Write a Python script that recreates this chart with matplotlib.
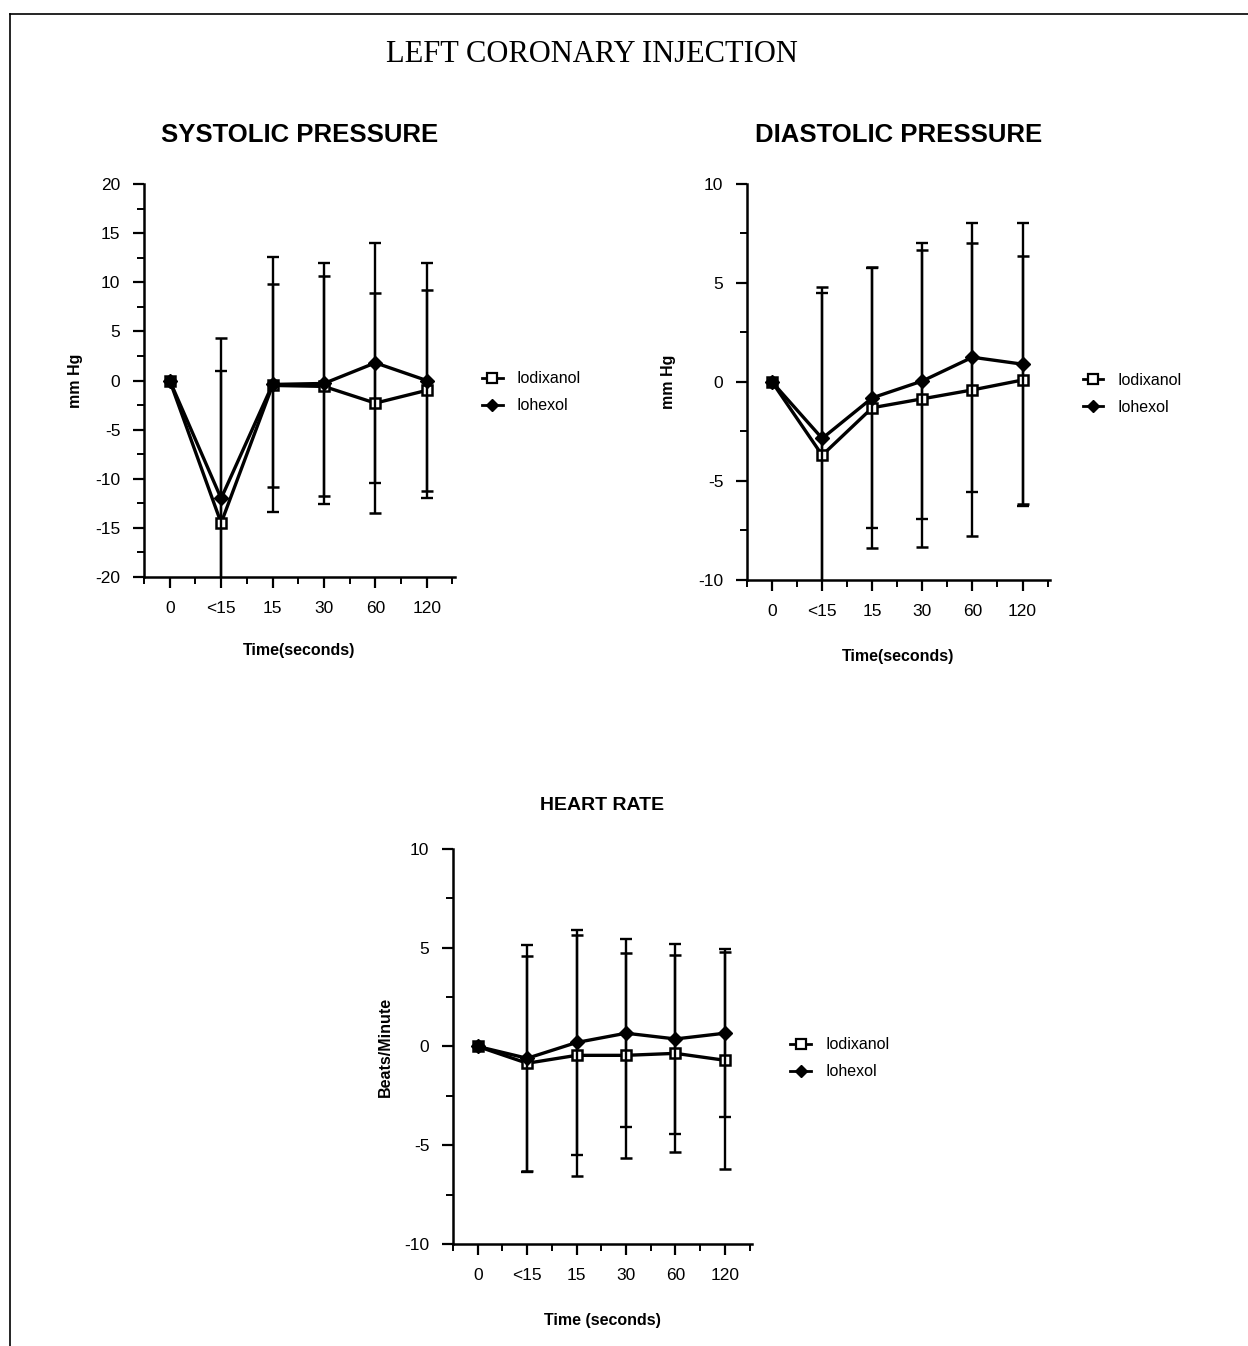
import numpy as np
import matplotlib
matplotlib.use("Agg")
import matplotlib.pyplot as plt
from matplotlib.ticker import FixedLocator, MultipleLocator
from matplotlib.lines import Line2D

plt.rcParams["font.family"] = ["Liberation Sans", "DejaVu Sans"]
plt.rcParams["axes.unicode_minus"] = False

time_labels = ["0", "<15", "15", "30", "60", "120"]

# systolic pressure change (mm Hg), mean and SD
sys_iodixanol = [0, -14.5, -0.5, -0.6, -2.3, -1.0]
sys_iodixanol_sd = [np.nan, 18.8, 10.3, 11.2, 11.2, 10.2]
sys_iohexol = [0, -12.0, -0.4, -0.3, 1.8, 0.0]
sys_iohexol_sd = [np.nan, 13.0, 13.0, 12.3, 12.2, 12.0]

# diastolic pressure change (mm Hg)
dia_iodixanol = [0, -3.7, -1.3, -0.85, -0.4, 0.1]
dia_iodixanol_sd = [np.nan, 8.5, 7.1, 7.5, 7.4, 6.25]
dia_iohexol = [0, -2.85, -0.8, 0.05, 1.25, 0.9]
dia_iohexol_sd = [np.nan, 7.35, 6.55, 6.95, 6.8, 7.15]

# heart rate change (beats/minute)
hr_iodixanol = [0, -0.85, -0.45, -0.45, -0.35, -0.7]
hr_iodixanol_sd = [np.nan, 5.45, 6.1, 5.2, 5.0, 5.5]
hr_iohexol = [0, -0.6, 0.2, 0.67, 0.38, 0.67]
hr_iohexol_sd = [np.nan, 5.75, 5.7, 4.75, 4.8, 4.25]


def draw_panel(ax, iod, iod_sd, ioh, ioh_sd, ylim, ystep):
    x = np.arange(len(time_labels))
    ax.errorbar(x, iod, yerr=iod_sd, color="black", lw=2.4, marker="s",
                ms=7.5, mfc="white", mec="black", mew=1.8, ecolor="black",
                elinewidth=1.7, capsize=4, capthick=1.7, zorder=3)
    ax.errorbar(x, ioh, yerr=ioh_sd, color="black", lw=2.4, marker="D",
                ms=7, mfc="black", mec="black", ecolor="black",
                elinewidth=1.7, capsize=4, capthick=1.7, zorder=4)
    ax.set_ylim(*ylim)
    ax.set_xlim(-0.5, 5.55)
    ax.spines["top"].set_visible(False)
    ax.spines["right"].set_visible(False)
    ax.spines["left"].set_linewidth(1.8)
    ax.spines["bottom"].set_linewidth(1.8)
    ax.xaxis.set_major_locator(FixedLocator(x))
    ax.set_xticklabels(time_labels)
    ax.xaxis.set_minor_locator(MultipleLocator(0.5))
    ax.yaxis.set_major_locator(MultipleLocator(ystep))
    ax.yaxis.set_minor_locator(MultipleLocator(ystep / 2))
    ax.tick_params(which="major", direction="out", length=8, width=1.6,
                   labelsize=12.5, pad=9)
    ax.tick_params(which="minor", direction="out", length=5, width=1.4)


def add_legend(ax, anchor):
    handles = [
        Line2D([], [], color="black", lw=2, marker="s", ms=7, mfc="white",
               mec="black", mew=1.6),
        Line2D([], [], color="black", lw=2, marker="D", ms=6, mfc="black"),
    ]
    ax.legend(handles, ["Iodixanol", "Iohexol"], loc="center left",
              bbox_to_anchor=anchor, frameon=False, fontsize=11.5,
              handlelength=1.3, handletextpad=0.9, labelspacing=0.75)


fig = plt.figure(figsize=(12.48, 13.46), dpi=100)

# page frame
fig.add_artist(Line2D([10 / 1248, 1.0], [1 - 14 / 1346, 1 - 14 / 1346],
                      transform=fig.transFigure, color="black", lw=1.2))
fig.add_artist(Line2D([10 / 1248, 10 / 1248], [0.0, 1 - 14 / 1346],
                      transform=fig.transFigure, color="black", lw=1.2))

fig.text(0.474, 1 - 54 / 1346, "LEFT CORONARY INJECTION", ha="center",
         va="center", fontsize=22, family="Liberation Serif")

ax1 = fig.add_axes([0.1154, 0.5713, 0.2492, 0.2920])
draw_panel(ax1, sys_iodixanol, sys_iodixanol_sd, sys_iohexol, sys_iohexol_sd,
           (-20, 20), 5)
ax1.set_title("SYSTOLIC PRESSURE", fontsize=18.5, fontweight="bold", pad=30)
ax1.set_ylabel("mm Hg", fontsize=11.5, fontweight="bold", labelpad=9)
ax1.set_xlabel("Time(seconds)", fontsize=11.5, fontweight="bold", labelpad=20)
add_legend(ax1, (1.04, 0.47))

ax2 = fig.add_axes([0.5986, 0.5691, 0.2428, 0.2942])
draw_panel(ax2, dia_iodixanol, dia_iodixanol_sd, dia_iohexol, dia_iohexol_sd,
           (-10, 10), 5)
ax2.set_title("DIASTOLIC PRESSURE", fontsize=18.5, fontweight="bold", pad=30)
ax2.set_ylabel("mm Hg", fontsize=11.5, fontweight="bold", labelpad=16)
ax2.set_xlabel("Time(seconds)", fontsize=11.5, fontweight="bold", labelpad=22)
add_legend(ax2, (1.06, 0.47))

ax3 = fig.add_axes([0.3630, 0.0758, 0.2396, 0.2935])
draw_panel(ax3, hr_iodixanol, hr_iodixanol_sd, hr_iohexol, hr_iohexol_sd,
           (-10, 10), 5)
ax3.set_title("HEART RATE", fontsize=14, fontweight="bold", pad=28)
ax3.set_ylabel("Beats/Minute", fontsize=11.5, fontweight="bold", labelpad=8)
ax3.set_xlabel("Time (seconds)", fontsize=11.5, fontweight="bold", labelpad=22)
add_legend(ax3, (1.08, 0.47))

fig.savefig("out.png", dpi=100)
